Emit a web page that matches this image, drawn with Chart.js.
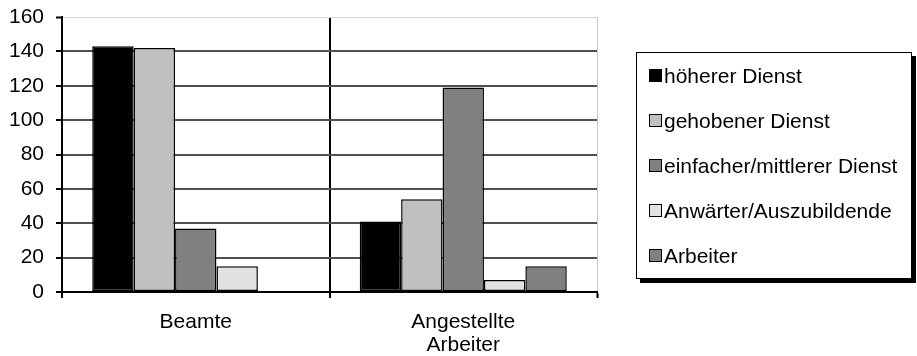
<!DOCTYPE html>
<html lang="de">
<head>
<meta charset="utf-8">
<title>Beschäftigte nach Laufbahngruppen</title>
<script src="https://cdn.jsdelivr.net/npm/chart.js@4.4.1/dist/chart.umd.min.js"></script>
<style>
  html, body { margin: 0; padding: 0; background: #fff; }
  #wrap { position: relative; width: 917px; height: 356px; overflow: hidden; }
  #chart { position: absolute; left: 0; top: 0; }
  #legend {
    position: absolute; left: 636px; top: 52px; width: 276px; height: 227px;
    border: 1.5px solid #000; box-shadow: 4px 4px 0 #000; background: #fff;
    box-sizing: border-box; display: flex; flex-direction: column;
    justify-content: space-around; padding: 0 0 0 12px;
    font-family: "Liberation Sans", Arial, sans-serif; font-size: 21px; color: #000;
  }
  #legend .item { display: flex; align-items: center; white-space: nowrap; line-height: 1; }
  #legend .sw { width: 11px; height: 11px; border: 1.5px solid #000; margin-right: 2px; flex: none; }
</style>
</head>
<body>
<div id="wrap">
  <canvas id="chart" width="917" height="356"></canvas>
  <div id="legend"></div>
</div>
<script>
// Personnel groups on the category axis
const categories = ['Beamte', ['Angestellte', 'Arbeiter']];

// Career groups (one bar series each)
const seriesNames = ['höherer Dienst', 'gehobener Dienst', 'einfacher/mittlerer Dienst', 'Anwärter/Auszubildende', 'Arbeiter'];
const hoehererDienst = [143, 41];
const gehobenerDienst = [142, 54];
const einfacherMittlererDienst = [37, 119];
const anwaerterAuszubildende = [15, 7];
const arbeiter = [null, 15];

// Value axis
const yTicks = [0, 20, 40, 60, 80, 100, 120, 140, 160];

const fills = ['#000000', '#c0c0c0', '#808080', '#e2e2e2', '#808080'];
const seriesValues = [hoehererDienst, gehobenerDienst, einfacherMittlererDienst, anwaerterAuszubildende, arbeiter];

const FONT = { family: '"Liberation Sans", Arial, sans-serif', size: 21, lineHeight: 1.0 };
const X_FONT = { family: '"Liberation Sans", Arial, sans-serif', size: 21, lineHeight: 1.1 };

const datasets = seriesNames.map((name, i) => ({
  label: name,
  data: seriesValues[i],
  backgroundColor: fills[i],
  borderColor: '#000',
  borderWidth: 1.5,
  borderSkipped: false,
  categoryPercentage: 0.774,
  barPercentage: 1.0
}));

const chart = new Chart(document.getElementById('chart'), {
  type: 'bar',
  data: { labels: categories, datasets },
  options: {
    responsive: false,
    animation: false,
    devicePixelRatio: 1,
    layout: { padding: { top: 17, right: 320, bottom: 0, left: 0 } },
    plugins: { legend: { display: false }, tooltip: { enabled: false }, title: { display: false } },
    scales: {
      x: {
        offset: true,
        grid: {
          offset: true,
          drawOnChartArea: true,
          // category separators are black, the closing right edge is a light frame line
          color: ctx => (ctx.type === 'tick' ? '#000' : '#c8c8c8'),
          lineWidth: ctx => (ctx.type === 'tick' ? 2 : 1),
          tickColor: '#000',
          tickWidth: 2,
          tickLength: 6
        },
        border: { display: true, color: '#000', width: 2 },
        ticks: { color: '#000', font: X_FONT, padding: 13, maxRotation: 0 },
        afterFit: s => { s.height = 64; s.paddingLeft = 0; s.paddingRight = 0; }
      },
      y: {
        min: yTicks[0],
        max: yTicks[yTicks.length - 1],
        afterBuildTicks: s => { s.ticks = yTicks.map(v => ({ value: v })); },
        grid: {
          color: ctx => (ctx.tick && ctx.tick.value === 160 ? '#d4d4d4' : '#505050'),
          lineWidth: ctx => (ctx.tick && ctx.tick.value === 160 ? 1 : 2),
          tickColor: '#000',
          tickWidth: 2,
          tickLength: 6
        },
        border: { display: true, color: '#000', width: 2 },
        ticks: { color: '#000', font: FONT, padding: 12 },
        afterFit: s => { s.width = 62; s.paddingTop = 0; s.paddingBottom = 0; }
      }
    }
  }
});

// Legend box built from the chart's datasets
const legendEl = document.getElementById('legend');
chart.data.datasets.forEach(ds => {
  const item = document.createElement('div');
  item.className = 'item';
  const sw = document.createElement('span');
  sw.className = 'sw';
  sw.style.background = ds.backgroundColor;
  const txt = document.createElement('span');
  txt.textContent = ds.label;
  item.appendChild(sw);
  item.appendChild(txt);
  legendEl.appendChild(item);
});
</script>
</body>
</html>
